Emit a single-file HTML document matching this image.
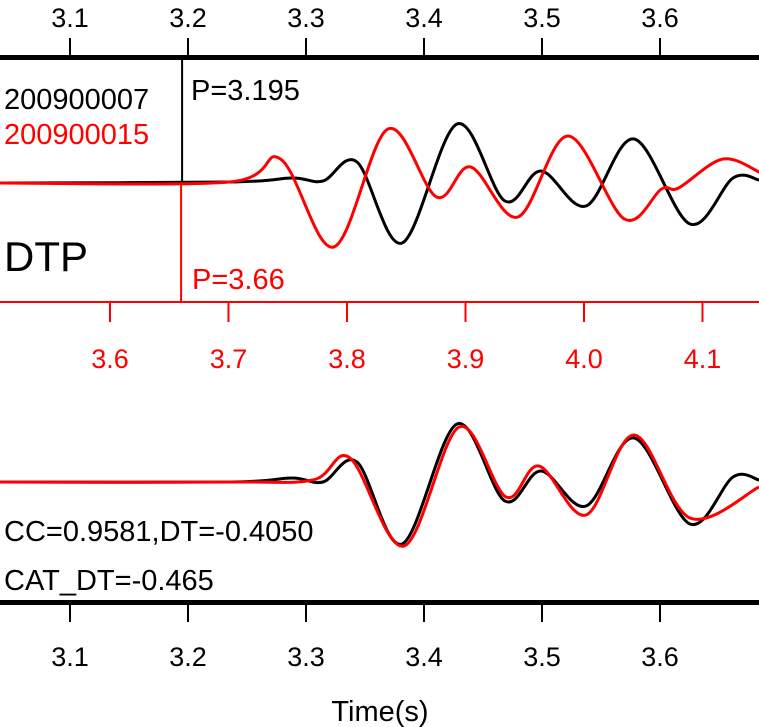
<!DOCTYPE html>
<html><head><meta charset="utf-8"><style>
body{margin:0;background:#fff}
svg{display:block;font-family:"Liberation Sans",sans-serif}
</style></head><body>
<svg id="c" width="759" height="727" viewBox="0 0 759 727">
<g id="g"></g>
</svg>
<script>
const topTicks=[3.1,3.2,3.3,3.4,3.5,3.6];
const redTicks=[3.6,3.7,3.8,3.9,4.0,4.1];
const blackTopT=[3.0407,3.2356,3.2881,3.3144,3.3432,3.3814,3.4280,3.4686,3.4992,3.5373,3.5780,3.6254,3.6619,3.6839];
const blackTopA=[0,1,5,2,21,-60,59,-18,12,-23,44,-41,5,3];
const redTopT=[3.5057,3.7006,3.7438,3.7888,3.8345,3.8756,3.9044,3.9442,3.9866,4.0341,4.0654,4.0798,4.1172,4.1494];
const redTopA=[0,1,24,-64,54,-14,16,-34,47,-36,-6,-5,24,10];
const blackBotT=[3.0407,3.2356,3.2881,3.3144,3.3432,3.3814,3.4280,3.4686,3.4992,3.5373,3.5780,3.6254,3.6619,3.6839];
const blackBotA=[0,0,4,0,20,-62,58,-19,11,-24,44,-42,5,2];
const redBotT=[3.0407,3.2356,3.3059,3.3373,3.3830,3.4297,3.4695,3.4975,3.5373,3.5780,3.6254,3.6839];
const redBotA=[0,0,2,24,-64,55,-15,16,-33,47,-36,-5];
const pickT=[3.195], redPickT=[3.66];

const NS="http://www.w3.org/2000/svg", g=document.getElementById('g');
const xB=t=>70+(t-3.1)*1180;
const xR=t=>110+(t-3.6)*1185;
function el(tag,attrs,txt){const e=document.createElementNS(NS,tag);for(const k in attrs)e.setAttribute(k,attrs[k]);if(txt!==undefined)e.textContent=txt;g.appendChild(e);return e;}
function path(T,A,xf,base,col,name){
  const P=T.map((t,i)=>[xf(t),base-A[i]]);
  let d="M"+P[0][0]+","+P[0][1];
  for(let i=0;i<P.length-1;i++){
    const p0=P[Math.max(0,i-1)],p1=P[i],p2=P[i+1],p3=P[Math.min(P.length-1,i+2)];
    const c1=[p1[0]+(p2[0]-p0[0])/6,p1[1]+(p2[1]-p0[1])/6];
    const c2=[p2[0]-(p3[0]-p1[0])/6,p2[1]-(p3[1]-p1[1])/6];
    d+=" C"+c1[0]+","+c1[1]+" "+c2[0]+","+c2[1]+" "+p2[0]+","+p2[1];
  }
  const e=el('path',{d:d,fill:'none',stroke:col,'stroke-width':3});
  
  
}
let a=el('rect',{x:0,y:55,width:759,height:5,fill:'#000'});

topTicks.forEach(t=>{
  let k=el('rect',{x:xB(t)-1,y:38,width:2,height:18,fill:'#000'});
  
  let l=el('text',{x:xB(t),y:27,'font-size':27,'text-anchor':'middle'},t.toFixed(1));
  
});
pickT.forEach(t=>{let v=el('rect',{x:xB(t)-1,y:58,width:2,height:125,fill:'#000'});
});
redPickT.forEach(t=>{let v=el('rect',{x:xR(t)-1,y:183,width:2,height:119,fill:'#f00'});
});
a=el('rect',{x:0,y:301,width:759,height:2,fill:'#f00'});

redTicks.forEach(t=>{
  let k=el('rect',{x:xR(t)-1,y:302,width:2,height:20,fill:'#f00'});
  
  let l=el('text',{x:xR(t),y:368,'font-size':27,'text-anchor':'middle',fill:'#f00'},t.toFixed(1));
  
});
a=el('rect',{x:0,y:600,width:759,height:5,fill:'#000'});

topTicks.forEach(t=>{
  let k=el('rect',{x:xB(t)-1,y:604,width:2,height:18,fill:'#000'});
  
  let l=el('text',{x:xB(t),y:666,'font-size':27,'text-anchor':'middle'},t.toFixed(1));
  
});
path(blackTopT,blackTopA,xB,183,'#000','black-trace-top');
path(redTopT,redTopA,xR,183,'#f00','red-trace-top');
path(blackBotT,blackBotA,xB,482,'#000','black-trace-bottom');
path(redBotT,redBotA,xB,482,'#f00','red-trace-bottom');
const texts=[[4,109,29,'#000','start','200900007','station-label-black'],
[4,144,29,'#f00','start','200900015','station-label-red'],
[191,100,29,'#000','start','P=3.195','black-pick-label'],
[4,271,42,'#000','start','DTP','phase-label'],
[192,289,29,'#f00','start','P=3.66','red-pick-label'],
[4,541,29,'#000','start','CC=0.9581,DT=-0.4050','cc-label'],
[4,590,29,'#000','start','CAT_DT=-0.465','cat-dt-label'],
[380,721,29,'#000','middle','Time(s)','x-axis-title']];
texts.forEach(s=>{let t=el('text',{x:s[0],y:s[1],'font-size':s[2],fill:s[3],'text-anchor':s[4]},s[5]);
});
</script>
</body></html>
